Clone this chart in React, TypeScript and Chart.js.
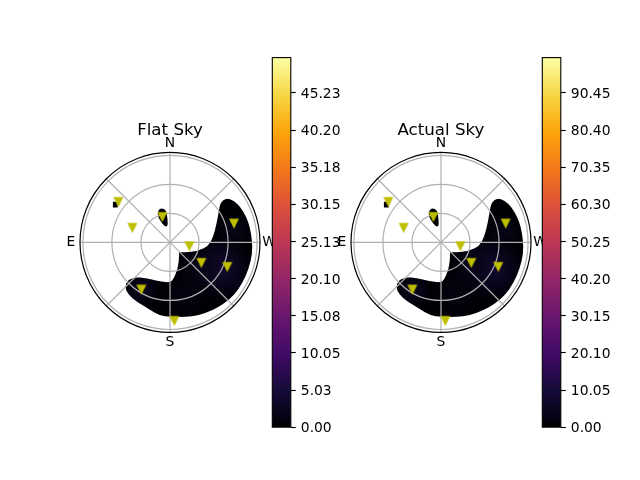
import React, { useEffect, useRef } from "react";
import { Chart, registerables } from "chart.js";

Chart.register(...registerables);

const FONT = "'DejaVu Sans'";

// Sky-plane coordinates in degrees of zenith angle: west positive, north positive.
const regionWest = [58.2, 65.8, 72.8, 78.6, 82.4, 84.8, 85.1, 81.4, 74.5, 65.8, 55.4, 43.3, 29.5, 15.5, 0, -10.5, -22.6, -34.7, -43.4, -46.8, -43.4, -34.4, -24.1, -13.8, 0, 3.4, 7.6, 9.3, 9.3, 9.3, 15.5, 29.3, 39.6, 44.8, 48.2, 50.6, 52];
const regionNorth = [46, 43.1, 36.6, 26.7, 16.3, 2.4, -11.4, -27.2, -42.8, -54.8, -63.5, -70.4, -75.6, -77.2, -77.2, -75.6, -68.6, -61, -53.8, -45.8, -38.5, -35.9, -37, -39.8, -41.7, -38.2, -28.6, -18.3, -10.3, -10.3, -10.3, -9, -3.8, 5.9, 19.6, 33.4, 41];
const blobWest = [-9, -4, -2.6, -2.2, -5.8, -10.5, -13, -12];
const blobNorth = [35.5, 33.5, 25, 16.5, 16.5, 23, 28, 33.5];
const speckWest = [-59, -59, -54, -54, -54, -59, -59];
const speckNorth = [42, 42, 42, 36, 36, 36, 36];

const flatMarkerWest = [-53.4, -38.9, -7.9, 20, 32.4, 59.2, 66.1, -29.6, 4.5];
const actualMarkerWest = [-54.4, -38.6, -7.9, 20, 31.3, 59.2, 66.8, -29.6, 4.5];
const markerNorth = [42, 15.2, 26.5, -3.8, -21, -25.1, 19.6, -48.6, -80.9];

// Faint bright patches in the dark region (fraction of the colour scale, spread in degrees).
const glowWest = [53.4, 32, -29, 66, 15];
const glowNorth = [-26.8, -25, -48, 12, -55];
const glowLevel = [0.085, 0.04, 0.06, 0.04, 0.025];
const glowSpread = [34, 26, 18, 20, 25];

const flatTicks = [0, 5.03, 10.05, 15.08, 20.1, 25.13, 30.15, 35.18, 40.2, 45.23];
const actualTicks = [0, 10.05, 20.1, 30.15, 40.2, 50.25, 60.3, 70.35, 80.4, 90.45];
const flatMax = 50;
const actualMax = 100;

const radialTicks = [30, 60, 90];
const spokeAngles = [0, 45, 90, 135, 180, 225, 270, 315];
const compassNames = ["N", "E", "S", "W"];
const compassAzimuths = [0, 90, 180, 270];
const compassRadius = [102.5, 102.5, 103.5, 102.5];
const R_MAX = 93;

const inferno = ["#000004", "#160B39", "#420A68", "#6A176E", "#932667", "#BC3754", "#DD513A", "#F37819", "#FCA50A", "#F6D746", "#FCFFA4"];

function hexRgb(h: string) {
  return [1, 3, 5].map((i) => parseInt(h.slice(i, i + 2), 16));
}
function infernoAt(f: number) {
  const p = Math.min(0.9999, Math.max(0, f)) * (inferno.length - 1);
  const i = Math.floor(p);
  const a = hexRgb(inferno[i]);
  const b = hexRgb(inferno[i + 1]);
  return a.map((v, k) => Math.round(v + (b[k] - v) * (p - i)));
}

function makeMarker() {
  const c = document.createElement("canvas");
  c.width = 12;
  c.height = 12;
  const g = c.getContext("2d")!;
  g.fillStyle = "#bfbf00";
  g.strokeStyle = "#bfbf00";
  g.lineWidth = 1.4;
  g.lineJoin = "miter";
  g.beginPath();
  g.moveTo(2.1, 2);
  g.lineTo(9.9, 2);
  g.lineTo(6, 9.8);
  g.closePath();
  g.fill();
  g.stroke();
  return c;
}

function zip(xs: number[], ys: number[]) {
  return xs.map((x, i) => ({ x, y: ys[i] }));
}

const skyPlugin = {
  id: "sky",
  beforeDatasetsDraw(chart: any) {
    const { ctx, scales } = chart;
    const xs = scales.x;
    const ys = scales.y;
    const cx = xs.getPixelForValue(0);
    const cy = ys.getPixelForValue(0);
    const unit = xs.getPixelForValue(1) - cx;
    ctx.save();
    // filled mesh outlines, with curved joins between the read-off points
    const path = new Path2D();
    chart.data.datasets.forEach((ds: any) => {
      if (!ds.isRegion) return;
      const pts = ds.data.map((p: any) => [xs.getPixelForValue(p.x), ys.getPixelForValue(p.y)]);
      const n = pts.length;
      const mid = (i: number) => {
        const a = pts[i % n];
        const b = pts[(i + 1) % n];
        return [(a[0] + b[0]) / 2, (a[1] + b[1]) / 2];
      };
      const s = mid(n - 1);
      path.moveTo(s[0], s[1]);
      for (let i = 0; i < n; i++) {
        const m = mid(i);
        path.quadraticCurveTo(pts[i][0], pts[i][1], m[0], m[1]);
      }
      path.closePath();
    });
    ctx.fillStyle = inferno[0];
    ctx.fill(path);
    ctx.save();
    ctx.clip(path);
    glowWest.forEach((w, i) => {
      const gx = xs.getPixelForValue(w);
      const gy = ys.getPixelForValue(glowNorth[i]);
      const [r, g, b] = infernoAt(glowLevel[i]);
      const grad = ctx.createRadialGradient(gx, gy, 0, gx, gy, glowSpread[i] * unit);
      grad.addColorStop(0, `rgba(${r},${g},${b},1)`);
      grad.addColorStop(1, `rgba(${r},${g},${b},0)`);
      ctx.fillStyle = grad;
      ctx.fillRect(gx - 200, gy - 200, 400, 400);
    });
    ctx.restore();
    // polar grid
    ctx.strokeStyle = "#b0b0b0";
    ctx.lineWidth = 1.2;
    radialTicks.forEach((r) => {
      ctx.beginPath();
      ctx.arc(cx, cy, r * unit, 0, Math.PI * 2);
      ctx.stroke();
    });
    spokeAngles.forEach((a) => {
      const t = (a * Math.PI) / 180;
      ctx.beginPath();
      ctx.moveTo(cx, cy);
      ctx.lineTo(cx + Math.sin(t) * R_MAX * unit, cy - Math.cos(t) * R_MAX * unit);
      ctx.stroke();
    });
    // outer spine
    ctx.strokeStyle = "#000";
    ctx.beginPath();
    ctx.arc(cx, cy, R_MAX * unit, 0, Math.PI * 2);
    ctx.stroke();
    // compass labels
    ctx.fillStyle = "#000";
    ctx.font = `13.89px ${FONT}`;
    ctx.textAlign = "center";
    ctx.textBaseline = "middle";
    compassNames.forEach((n, i) => {
      const t = (compassAzimuths[i] * Math.PI) / 180;
      const r = compassRadius[i] * unit;
      ctx.fillText(n, cx - Math.sin(t) * r, cy - Math.cos(t) * r);
    });
    ctx.restore();
  },
};

const framePlugin = {
  id: "frame",
  afterDraw(chart: any) {
    const { ctx, chartArea: a } = chart;
    ctx.save();
    ctx.strokeStyle = "#000";
    ctx.lineWidth = 1.1;
    ctx.strokeRect(a.left, a.top, a.right - a.left, a.bottom - a.top);
    ctx.restore();
  },
};

function polarConfig(title: string, markerWest: number[], marker: HTMLCanvasElement): any {
  const hidden = { type: "linear", display: false, min: -R_MAX, max: R_MAX };
  return {
    type: "scatter",
    data: {
      datasets: [
        { isRegion: true, data: zip(regionWest, regionNorth), pointRadius: 0 },
        { isRegion: true, data: zip(blobWest, blobNorth), pointRadius: 0 },
        { isRegion: true, data: zip(speckWest, speckNorth), pointRadius: 0 },
        {
          data: zip(markerWest, markerNorth),
          pointStyle: marker,
          pointRadius: 5,
          clip: false,
        },
      ],
    },
    options: {
      responsive: false,
      animation: false,
      events: [],
      layout: { padding: { left: 30, right: 30, top: 0, bottom: 27.6 } },
      scales: { x: hidden, y: hidden },
      plugins: {
        legend: { display: false },
        tooltip: { enabled: false },
        title: {
          display: true,
          text: title,
          color: "#000",
          font: { family: FONT, size: 16.67, weight: "normal", lineHeight: 1.2 },
          padding: { top: 1.5, bottom: 11.9 },
        },
      },
    },
    plugins: [skyPlugin],
  };
}

function barConfig(ticks: number[], max: number): any {
  return {
    type: "bar",
    data: {
      labels: [""],
      datasets: [
        {
          data: [[0, max]],
          barPercentage: 1,
          categoryPercentage: 1,
          borderWidth: 0,
          backgroundColor: (c: any) => {
            const { chart } = c;
            const a = chart.chartArea;
            if (!a) return inferno[0];
            const g = chart.ctx.createLinearGradient(0, a.bottom, 0, a.top);
            inferno.forEach((col, i) => g.addColorStop(i / (inferno.length - 1), col));
            return g;
          },
        },
      ],
    },
    options: {
      responsive: false,
      animation: false,
      events: [],
      layout: { padding: { left: 10.3, right: 11.2, top: 17.6, bottom: 22.8 } },
      scales: {
        x: { display: false },
        y: {
          position: "right",
          min: 0,
          max,
          afterBuildTicks: (s: any) => {
            s.ticks = ticks.map((value) => ({ value }));
          },
          afterFit: (s: any) => {
            s.width = 60;
          },
          border: { display: false },
          grid: { drawOnChartArea: false, tickLength: 5, tickColor: "#000", tickWidth: 1.1 },
          ticks: {
            autoSkip: false,
            padding: 5,
            labelOffset: 1.5,
            color: "#000",
            font: { family: FONT, size: 13.89 },
            callback: (v: any) => Number(v).toFixed(2),
          },
        },
      },
      plugins: { legend: { display: false }, tooltip: { enabled: false }, title: { display: false } },
    },
    plugins: [framePlugin],
  };
}

const abs = (left: number, top: number): React.CSSProperties => ({ position: "absolute", left, top, display: "block" });

export default function App() {
  const a = useRef<HTMLCanvasElement>(null);
  const b = useRef<HTMLCanvasElement>(null);
  const c = useRef<HTMLCanvasElement>(null);
  const d = useRef<HTMLCanvasElement>(null);

  useEffect(() => {
    const marker = makeMarker();
    const charts = [
      new Chart(a.current!, polarConfig("Flat Sky", flatMarkerWest, marker)),
      new Chart(b.current!, polarConfig("Actual Sky", actualMarkerWest, marker)),
      new Chart(c.current!, barConfig(flatTicks, flatMax)),
      new Chart(d.current!, barConfig(actualTicks, actualMax)),
    ];
    return () => charts.forEach((x) => x.destroy());
  }, []);

  return (
    <div style={{ position: "fixed", left: 0, top: 0, width: 640, height: 480, background: "#fff", overflow: "hidden" }}>
      <canvas ref={a} width={240} height={241} style={abs(50, 119)} />
      <canvas ref={b} width={240} height={241} style={abs(321, 119)} />
      <canvas ref={c} width={100} height={410} style={abs(262, 40)} />
      <canvas ref={d} width={100} height={410} style={abs(532, 40)} />
    </div>
  );
}
